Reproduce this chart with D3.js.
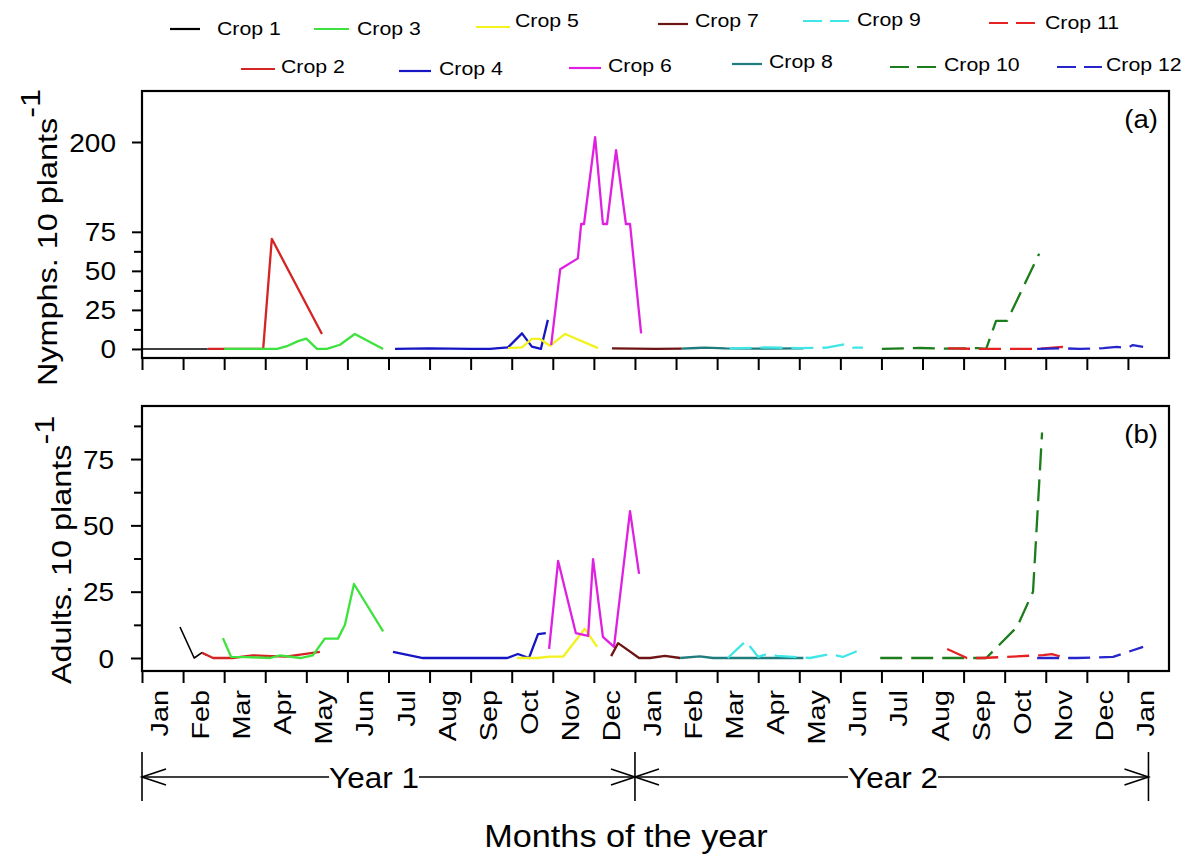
<!DOCTYPE html>
<html lang="en">
<head>
<meta charset="utf-8">
<title>Crops</title>
<script src="https://cdnjs.cloudflare.com/ajax/libs/d3/7.8.5/d3.min.js"></script>
<style>
  body { margin: 0; background: #fff; }
  text { font-family: "Liberation Sans", Arial, sans-serif; fill: #000; }
</style>
</head>
<body>
<script>
// ---- data ----
var crops = ["Crop 1", "Crop 2", "Crop 3", "Crop 4", "Crop 5", "Crop 6",
             "Crop 7", "Crop 8", "Crop 9", "Crop 10", "Crop 11", "Crop 12"];
var monthLabels = ["Jan", "Feb", "Mar", "Apr", "May", "Jun", "Jul", "Aug", "Sep", "Oct", "Nov", "Dec",
                   "Jan", "Feb", "Mar", "Apr", "May", "Jun", "Jul", "Aug", "Sep", "Oct", "Nov", "Dec", "Jan"];
var nymphTicks = [0, 25, 50, 75, 200];
var adultTicks = [0, 25, 50, 75];

// [month (0 = start of Jan, year 1), count per 10 plants]
var n1 = [[0, 0], [1.6, 0]];
var n2 = [[1.6, 0], [2.0, 0], [2.95, 0], [3.16, 70.5], [4.38, 9.6]];
var n3 = [[2.0, 0], [2.95, 0], [3.29, 0], [3.55, 2], [3.8, 5], [4.0, 6.6], [4.26, 0], [4.5, 0], [4.82, 2.7], [5.18, 9.6], [5.87, 0]];
var n4 = [[6.16, 0], [7.0, 0.3], [8.0, 0], [8.47, 0], [8.91, 1], [9.25, 10], [9.49, 1.5], [9.71, 0], [9.88, 18.6]];
var n5 = [[8.91, 0.5], [9.25, 1], [9.49, 6.4], [9.69, 6.4], [9.93, 2], [10.3, 9.6], [11.1, 0.5]];
var n6 = [[9.96, 2.5], [10.18, 51], [10.61, 58], [10.69, 80], [10.76, 100], [11.03, 206], [11.22, 100], [11.27, 86],
          [11.32, 100], [11.54, 190], [11.78, 100], [11.88, 80], [12.15, 10]];
var n7 = [[11.44, 0.3], [12.5, 0], [13.14, 0.2]];
var n8 = [[13.14, 0.2], [13.5, 0.6], [13.7, 0.8], [14.2, 0.3], [15.0, 0.2], [16.1, 0.4]];
var n9 = [[14.3, 0.3], [14.56, 0.5], [15.2, 1], [16.0, 0.5], [16.67, 0.8], [17.11, 3], [17.3, 0.8], [17.55, 0.8]];
var n10 = [[18.01, 0], [18.94, 0.6], [19.6, 0.2], [20.33, 0.5], [20.55, 0], [20.79, 18], [21.06, 18], [21.84, 61]];
var n11 = [[19.62, 0.3], [20.5, 0], [21.79, 0], [22.4, 1.3], [22.6, 0.3]];
var n12 = [[21.79, 0], [22.42, 0.4], [22.83, 0], [23.4, 0.5], [23.73, 1.3], [23.98, 0.6], [24.12, 2.5], [24.37, 1.3]];

var a1 = [[0.925, 11.7], [1.27, 0], [1.46, 2], [1.58, 1]];
var a2 = [[1.46, 2], [1.73, 0], [2.2, 0], [2.7, 1], [3.0, 0.8], [3.5, 0.5], [4.33, 2.3]];
var a3 = [[1.97, 7.5], [2.17, 0.4], [2.56, 0.3], [3.12, 0], [3.36, 1], [3.85, 0], [4.16, 1], [4.45, 7.3], [4.77, 7.3], [4.94, 12.5], [5.16, 27.9], [5.87, 10]];
var a4 = [[6.11, 2.3], [6.84, 0], [8.4, 0], [8.89, 0], [9.15, 1.5], [9.42, 0], [9.64, 9], [9.83, 9.4]];
var a5 = [[9.13, 0], [9.62, 0], [9.93, 0.5], [10.25, 0.5], [10.78, 11], [11.08, 4.2]];
var a6 = [[9.91, 3.4], [10.13, 36.6], [10.56, 9.4], [10.86, 8.3], [10.98, 37.3], [11.22, 8], [11.49, 4.2], [11.88, 55.4], [12.1, 31.7]];
var a7 = [[11.42, 0.7], [11.59, 5.6], [12.1, 0], [12.37, 0], [12.73, 0.8], [13.1, 0]];
var a8 = [[13.1, 0], [13.58, 0.6], [13.9, 0], [15.46, 0], [16.1, 0]];
var a9 = [[14.26, 0], [14.7, 6.4], [14.85, 3.4], [15.0, 0.4], [15.21, 1.5], [15.46, 0.8], [15.85, 0.4], [16.26, 0], [16.75, 1.5], [17.06, 0.4], [17.53, 3.4]];
var a10 = [[17.97, 0], [19.99, 0], [20.55, 0], [21.3, 11.7], [21.69, 25], [21.91, 85]];
var a11 = [[19.6, 3.4], [20.08, 0], [20.45, 0], [21.93, 1.1], [22.15, 1.5], [22.4, 0.4]];
var a12 = [[21.79, 0], [22.76, 0], [23.64, 0.4], [24.37, 4.2]];

var nymphs = [n1, n2, n3, n4, n5, n6, n7, n8, n9, n10, n11, n12];
var adults = [a1, a2, a3, a4, a5, a6, a7, a8, a9, a10, a11, a12];

// ---- styles ----
var colors = ["#000000", "#d42424", "#3ee23e", "#1616c4", "#f2f21c", "#e020e0",
              "#6e1414", "#1e7c7c", "#40e6e6", "#1b7d1b", "#e42222", "#2626cc"];
var dashed = [false, false, false, false, false, false, false, false, true, true, true, true];

var w = 1198, h = 857;
var svg = d3.select("body").append("svg").attr("width", w).attr("height", h);

var left = 142, right = 1169;
var x = d3.scaleLinear().domain([0, 25]).range([left, right]);

// text helper: glyphs in the original look a little wider than Arial
function label(g, str, tx, ty, size, anchor, rot, sx) {
  var t = g.append("text")
    .attr("transform", "translate(" + tx + "," + ty + ") rotate(" + (rot || 0) + ") scale(" + (sx || 1.1) + ",1)")
    .attr("font-size", size + "px")
    .attr("text-anchor", anchor || "start")
    .text(str);
  return t;
}

// ---- panels ----
var topP = { y0: 91, y1: 358 };
var botP = { y0: 406, y1: 671 };

// broken axis in (a): 80..100 is squeezed onto the break line
var yTop = d3.scaleLinear().domain([-5.8, 80, 100, 262.2]).range([topP.y1, 224, 224, topP.y0]);
var yBot = d3.scaleLinear().domain([-4.9, 95]).range([botP.y1, botP.y0]);

var defs = svg.append("defs");
defs.append("clipPath").attr("id", "clipTop").append("rect")
  .attr("x", left).attr("y", topP.y0).attr("width", right - left).attr("height", topP.y1 - topP.y0);
defs.append("clipPath").attr("id", "clipBot").append("rect")
  .attr("x", left).attr("y", botP.y0).attr("width", right - left).attr("height", botP.y1 - botP.y0);

function drawPanel(series, y, p, clipId, majors, minors, tickLen, pad, tag, tagY) {
  var g = svg.append("g");

  var line = d3.line().x(function (d) { return x(d[0]); }).y(function (d) { return y(d[1]); });
  g.append("g").attr("clip-path", "url(#" + clipId + ")")
    .selectAll("path").data(series).enter().append("path")
    .attr("d", line)
    .attr("fill", "none")
    .attr("stroke", function (d, i) { return colors[i]; })
    .attr("stroke-width", function (d, i) { return i === 0 ? 1.6 : 2.3; })
    .attr("stroke-dasharray", function (d, i) { return dashed[i] ? "22,9" : null; })
    .attr("stroke-linejoin", "round");

  var yAxis = d3.axisLeft(y).tickValues(majors).tickSize(tickLen).tickPadding(pad).tickFormat(d3.format("d"));
  var ya = g.append("g").attr("transform", "translate(" + left + ",0)").call(yAxis);
  ya.select(".domain").remove();
  ya.selectAll(".tick line").attr("stroke-width", 2);
  ya.selectAll(".tick text").attr("font-size", "25px").attr("dy", "0.36em")
    .attr("font-family", "Liberation Sans, Arial, sans-serif")
    .attr("transform", "scale(1.12,1)")
    .attr("x", -(tickLen + pad) / 1.12);

  var ym = g.append("g").attr("transform", "translate(" + left + ",0)")
    .call(d3.axisLeft(y).tickValues(minors).tickSize(8).tickFormat(""));
  ym.select(".domain").remove();
  ym.selectAll(".tick line").attr("stroke-width", 2);

  var xa = g.append("g").attr("transform", "translate(0," + p.y1 + ")")
    .call(d3.axisBottom(x).tickValues(d3.range(0, 25)).tickSize(12).tickFormat(""));
  xa.select(".domain").remove();
  xa.selectAll(".tick line").attr("stroke-width", 2);

  g.append("rect").attr("x", left).attr("y", p.y0).attr("width", right - left).attr("height", p.y1 - p.y0)
    .attr("fill", "none").attr("stroke", "#000").attr("stroke-width", 2.2);

  label(g, tag, 1158, tagY, 26, "end", 0, 1.06);
  return g;
}

drawPanel(nymphs, yTop, topP, "clipTop", nymphTicks, [12.5, 37.5, 62.5], 10, 16, "(a)", 128);
drawPanel(adults, yBot, botP, "clipBot", adultTicks, [12.5, 37.5, 62.5, 87.5], 11, 17, "(b)", 443);

// month labels under the lower panel
var mAxis = svg.append("g").attr("transform", "translate(0," + botP.y1 + ")")
  .call(d3.axisBottom(x).tickValues(d3.range(0.5, 25, 1)).tickSize(0)
    .tickFormat(function (d, i) { return monthLabels[i]; }));
mAxis.select(".domain").remove();
mAxis.selectAll(".tick text")
  .attr("font-size", "24px")
  .attr("font-family", "Liberation Sans, Arial, sans-serif")
  .attr("fill", "#000")
  .attr("text-anchor", "end")
  .attr("x", null).attr("y", null).attr("dy", null)
  .attr("transform", "translate(5,19) rotate(-90) scale(1.2,1)");

// y titles
function yTitle(str, tx, ty) {
  var t = svg.append("text")
    .attr("transform", "translate(" + tx + "," + ty + ") rotate(-90) scale(1.2,1)")
    .attr("font-size", "27px");
  t.append("tspan").text(str);
  t.append("tspan").attr("dy", "-0.62em").text("-1");
}
yTitle("Nymphs. 10 plants", 57, 386);
yTitle("Adults. 10 plants", 71, 684);

// year brackets
var by = 777;
var brk = svg.append("g").attr("stroke", "#000").attr("stroke-width", 1.6).attr("fill", "none");
[0, 12, 24.5].forEach(function (m) {
  brk.append("line").attr("x1", x(m)).attr("x2", x(m)).attr("y1", 752).attr("y2", 801);
});
function arrow(xp, dir) {
  brk.append("polyline")
    .attr("points", [[xp + dir * 24, by - 8], [xp, by], [xp + dir * 24, by + 8]].map(function (p) { return p.join(","); }).join(" "));
}
function yearSpan(m0, m1, str, cx) {
  var t = label(svg, str, cx, by + 11, 30, "middle", 0, 1.05);
  var bb = t.node().getBBox();
  var half = bb.width * 1.05 / 2;
  brk.append("line").attr("x1", x(m0)).attr("x2", cx - half).attr("y1", by).attr("y2", by);
  brk.append("line").attr("x1", cx + half).attr("x2", x(m1)).attr("y1", by).attr("y2", by);
  arrow(x(m0), 1);
  arrow(x(m1), -1);
}
yearSpan(0, 12, "Year 1", 374);
yearSpan(12, 24.5, "Year 2", 893);

label(svg, "Months of the year", 626, 847, 32, "middle", 0, 1.07);

// ---- legend ----
// [line x1, line x2, line y, text x, text baseline]
var legendLayout = [
  [170, 200, 29, 217, 35], [241, 275, 69, 281, 73],
  [314, 349, 29, 357, 35], [399, 431, 71, 439, 75],
  [476, 510, 27, 515, 27], [569, 601, 68, 608, 72],
  [658, 688, 24, 695, 27], [732, 762, 64, 769, 68],
  [803, 853, 21, 857, 26], [890, 937, 67, 944, 71],
  [989, 1035, 23, 1045, 29], [1057, 1102, 67, 1106, 71]
];
var lg = svg.append("g");
crops.forEach(function (c, i) {
  var L = legendLayout[i];
  lg.append("line").attr("x1", L[0]).attr("x2", L[1]).attr("y1", L[2]).attr("y2", L[2])
    .attr("stroke", colors[i]).attr("stroke-width", 2.2)
    .attr("stroke-dasharray", dashed[i] ? "19,8" : null);
  label(lg, c, L[3], L[4], 19, "start", 0, 1.12);
});
</script>
</body>
</html>
